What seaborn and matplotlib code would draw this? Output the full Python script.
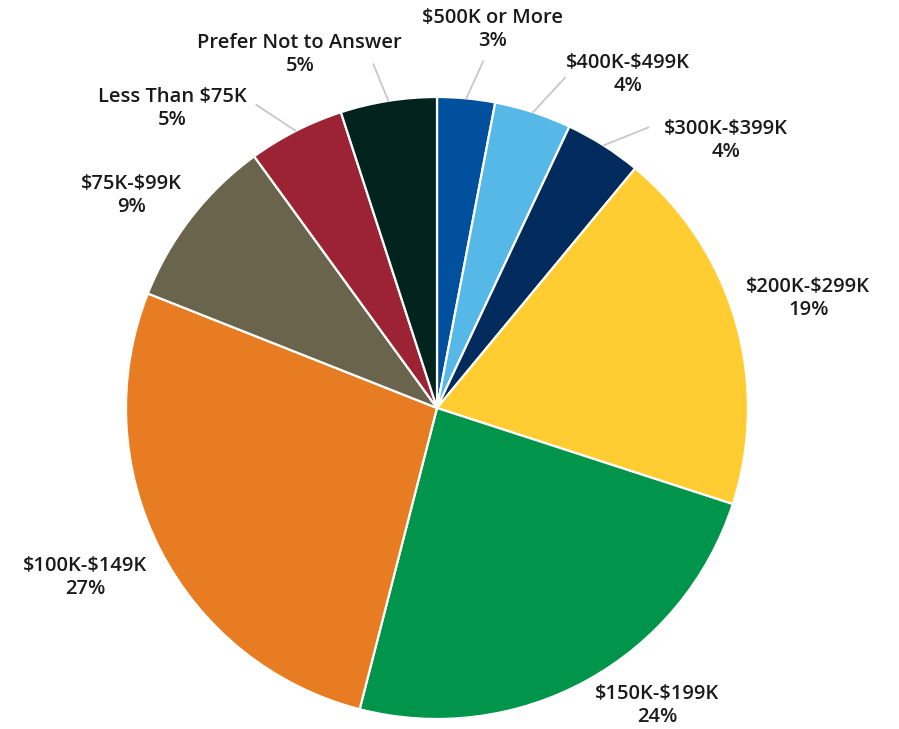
import numpy as np
import matplotlib
matplotlib.use("Agg")
import matplotlib.pyplot as plt
import seaborn as sns

# Household income distribution (clockwise from 12 o'clock)
categories = ["$500K or More", "$400K-$499K", "$300K-$399K", "$200K-$299K",
              "$150K-$199K", "$100K-$149K", "$75K-$99K", "Less Than $75K",
              "Prefer Not to Answer"]
shares = [3, 4, 4, 19, 24, 27, 9, 5, 5]
colors = ["#00509E", "#55B8E7", "#002B5C", "#FFCC32", "#00954A",
          "#E87C23", "#6A644D", "#9C2333", "#00241D"]

# Label placement: (angle from top in degrees, radius in pie radii)
label_pos = [(8.3, 1.23), (29.8, 1.235), (47.2, 1.265), (73.5, 1.245),
             (143.5, 1.19), (244.3, 1.255), (304.8, 1.195), (318.6, 1.285),
             (338.8, 1.22)]
# Leader lines for the narrow slices: index -> end point (angle, radius)
leaders = {0: (7.6, 1.125), 1: (21.2, 1.14), 2: (37.0, 1.13),
           7: (329.2, 1.135), 8: (349.5, 1.125)}

sns.set_theme(style="white")
plt.rcParams["font.family"] = ["Open Sans", "DejaVu Sans"]
plt.rcParams["text.parse_math"] = False

W, H = 899, 729
cx, cy, R = 437, 408, 311
fig = plt.figure(figsize=(W / 100, H / 100), dpi=100)
ax = fig.add_axes([0, 0, 1, 1])

ax.pie(shares, colors=colors, startangle=90, counterclock=False, radius=1.0,
       wedgeprops=dict(edgecolor="white", linewidth=1.6))
ax.set_aspect("equal")
ax.set_xlim(-cx / R, (W - cx) / R)
ax.set_ylim(-(H - cy) / R, cy / R)
ax.axis("off")


def polar(angle_deg, r):
    a = np.deg2rad(angle_deg)
    return r * np.sin(a), r * np.cos(a)


total = float(sum(shares))
cum = np.cumsum([0] + shares)
for i, (cat, val) in enumerate(zip(categories, shares)):
    mid = (cum[i] + val / 2) / total * 360
    if i in leaders:
        x0, y0 = polar(mid, 1.0)
        x1, y1 = polar(*leaders[i])
        ax.plot([x0, x1], [y0, y1], color="#C8C8C8", lw=1.3, zorder=1)
    tx, ty = polar(*label_pos[i])
    ax.text(tx, ty, f"{cat}\n{val}%", ha="center", va="center",
            fontsize=14.5, fontweight="semibold", color="#1A1A1A",
            linespacing=1.2, parse_math=False)

fig.savefig("out.png", dpi=100, facecolor="white")
